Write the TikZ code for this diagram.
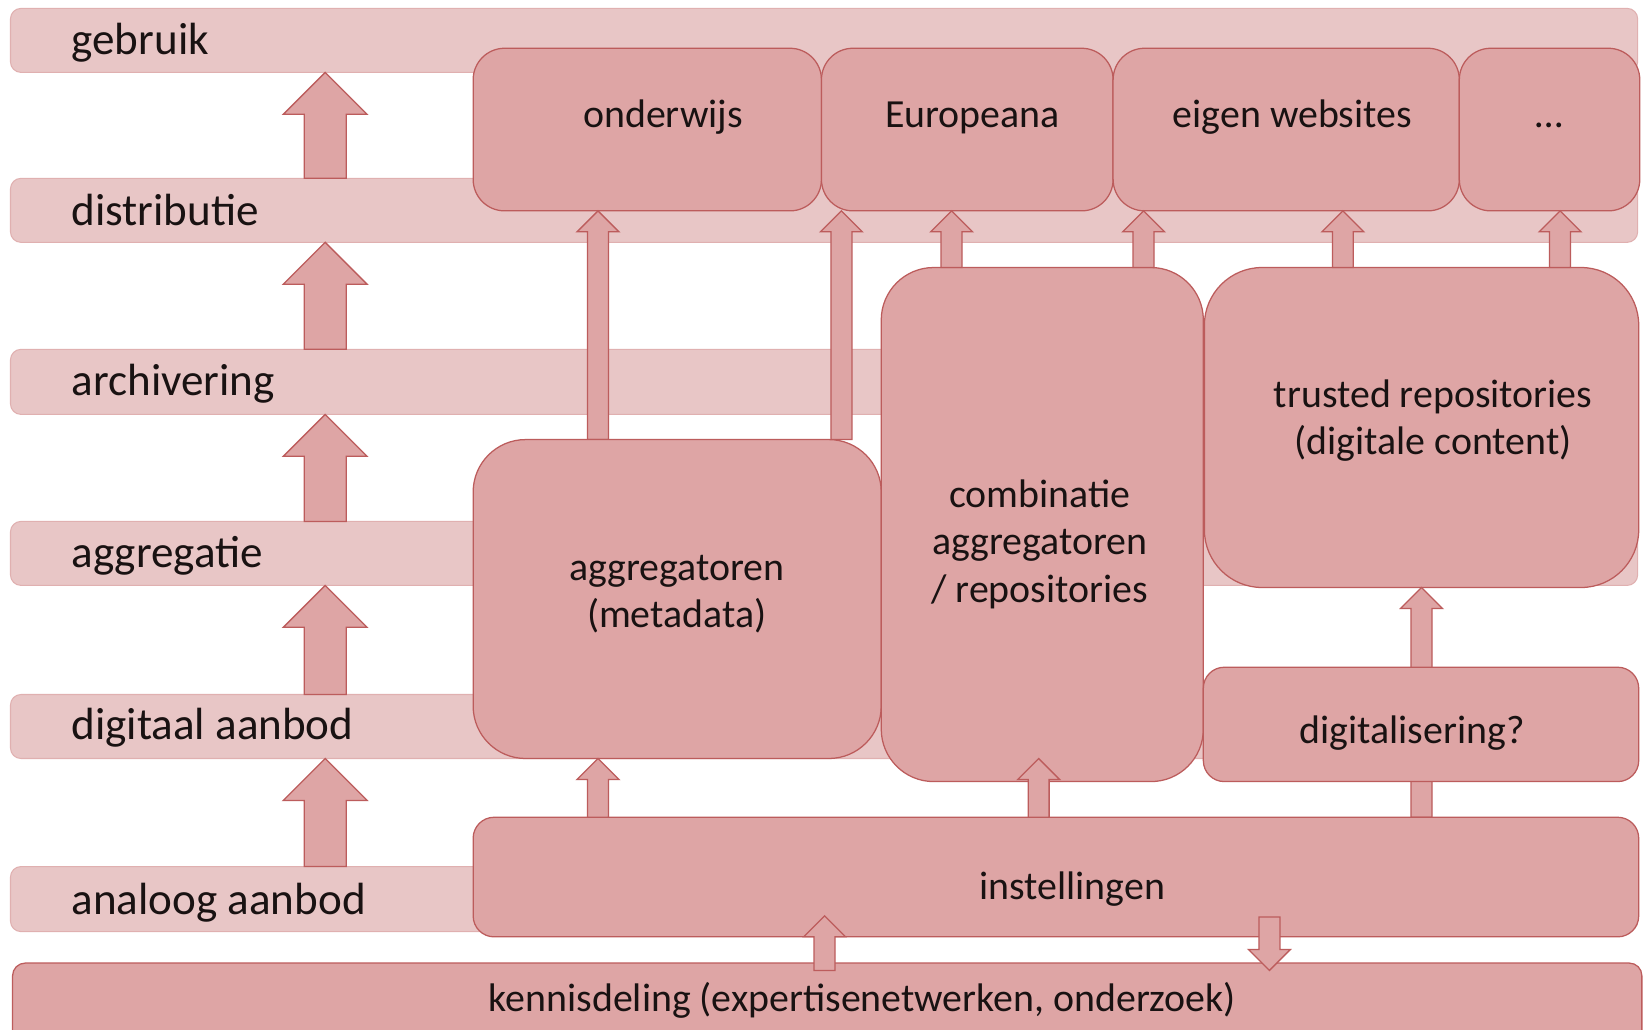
\documentclass[tikz,border=0pt]{standalone}
\usepackage{fontspec}
\setmainfont{Carlito}
\definecolor{bandfill}{RGB}{232,198,198}
\definecolor{banddraw}{RGB}{224,176,176}
\definecolor{boxfill}{RGB}{222,165,165}
\definecolor{boxdraw}{RGB}{188,92,92}
\definecolor{txt}{RGB}{25,18,18}
\tikzset{
  bandst/.style={fill=bandfill, draw=banddraw, line width=1pt},
  boxst/.style={fill=boxfill, draw=boxdraw, line width=1.2pt},
  arrst/.style={fill=boxfill, draw=boxdraw, line width=1.2pt, line join=miter},
  lvltxt/.style={anchor=base west, font=\fontsize{43}{50}\selectfont, text=txt, inner sep=0pt},
  boxtxt/.style={anchor=base, font=\fontsize{38}{45}\selectfont, text=txt, inner sep=0pt},
}
% style, name, x1, y1, x2, y2, corner radius
\newcommand\mkshape[7]{%
  \node[#1, rounded corners=#7pt, inner sep=0pt,
        minimum width={(#5-#3)*1pt}, minimum height={(#6-#4)*1pt}]
        (#2) at ({(#3+#5)/2},{(#4+#6)/2}) {};}
% x, tip y, base y, half shaft, half head, head height (signed)
\newcommand\blkarrow[6]{%
  \filldraw[arrst] ({#1-#4},#3) -- ({#1-#4},{#2+(#6)}) -- ({#1-#5},{#2+(#6)})
     -- (#1,#2) -- ({#1+#5},{#2+(#6)}) -- ({#1+#4},{#2+(#6)}) -- ({#1+#4},#3) -- cycle;}
\begin{document}
\begin{tikzpicture}[x=1pt,y=-1pt]
\useasboundingbox (0,0) rectangle (1568,981);
\fill[white] (0,0) rectangle (1568,981);
% level bands
\mkshape{bandst}{bgebruik}{10}{8}{1561}{69}{10}
\mkshape{bandst}{bdistr}{10}{170}{1561}{231}{10}
\mkshape{bandst}{barch}{10}{333}{1561}{395}{10}
\mkshape{bandst}{baggr}{10}{497}{1561}{558}{10}
\mkshape{bandst}{bdig}{10}{662}{1561}{723}{10}
\mkshape{bandst}{banal}{10}{826}{1561}{888}{10}
% level labels
\node[lvltxt] (lgebruik) at (68,52) {gebruik};
\node[lvltxt] (ldistr) at (68,215) {distributie};
\node[lvltxt] (larch) at (68,377) {archivering};
\node[lvltxt] (laggr) at (68,541) {aggregatie};
\node[lvltxt] (ldig) at (68,705) {digitaal aanbod};
\node[lvltxt] (lanal) at (68,872) {analoog aanbod};
% big arrows between levels
\blkarrow{310}{69}{170}{20}{40}{40}
\blkarrow{310}{231}{333}{20}{40}{40}
\blkarrow{310}{395}{497}{20}{40}{40}
\blkarrow{310}{558}{662}{20}{40}{40}
\blkarrow{310}{723}{826}{20}{40}{40}
% top row
\mkshape{boxst}{onderwijs}{451}{46}{783}{201}{30}
\mkshape{boxst}{europeana}{783}{46}{1061}{201}{30}
\mkshape{boxst}{eigen}{1061}{46}{1391}{201}{30}
\mkshape{boxst}{overig}{1391}{46}{1563}{201}{30}
\node[boxtxt] (tonderwijs) at (632,122) {onderwijs};
\node[boxtxt] (teuropeana) at (927,122) {Europeana};
\node[boxtxt] (teigen) at (1232,122) {eigen websites};
\node[boxtxt] (toverig) at (1477,122) {…};
% arrows from aggregatoren
\blkarrow{570}{201}{419}{10}{20}{20}
\blkarrow{802}{201}{419}{10}{20}{20}
% middle boxes
\mkshape{boxst}{aggr}{451}{419}{840}{723}{50}
\node[boxtxt] (taggr1) at (645,553) {aggregatoren};
\node[boxtxt] (taggr2) at (645,598) {(metadata)};
\mkshape{boxst}{comb}{840}{255}{1147}{745}{50}
\node[boxtxt] (tcomb1) at (991,484) {combinatie};
\node[boxtxt] (tcomb2) at (991,529) {aggregatoren};
\node[boxtxt] (tcomb3) at (991,574) {/ repositories};
\mkshape{boxst}{trusted}{1148}{255}{1562}{560}{55}
\node[boxtxt] (ttrust1) at (1366,388) {trusted repositories};
\node[boxtxt] (ttrust2) at (1366,433) {(digitale content)};
% arrows to top row
\blkarrow{907}{201}{255}{10}{20}{20}
\blkarrow{1090}{201}{255}{10}{20}{20}
\blkarrow{1280}{201}{255}{10}{20}{20}
\blkarrow{1487}{201}{255}{10}{20}{20}
% instellingen -> trusted (behind digitalisering)
\blkarrow{1355}{560}{779}{10}{20}{20}
\mkshape{boxst}{digit}{1147}{636}{1562}{745}{20}
\node[boxtxt] (tdigit) at (1346,709) {digitalisering?};
% instellingen and kennisdeling
\mkshape{boxst}{inst}{451}{779}{1562}{893}{20}
\node[boxtxt] (tinst) at (1022,857) {instellingen};
\mkshape{boxst}{kennis}{12}{918}{1565}{1010}{12}
\node[boxtxt] (tkennis) at (822,964) {kennisdeling (expertisenetwerken, onderzoek)};
% arrows from instellingen
\blkarrow{570}{723}{779}{10}{20}{20}
\blkarrow{990}{723}{779}{10}{20}{20}
% arrows between instellingen and kennisdeling
\blkarrow{786}{873}{925}{10}{20}{20}
\blkarrow{1210}{925}{874}{10}{20}{-20}
\end{tikzpicture}
\end{document}
